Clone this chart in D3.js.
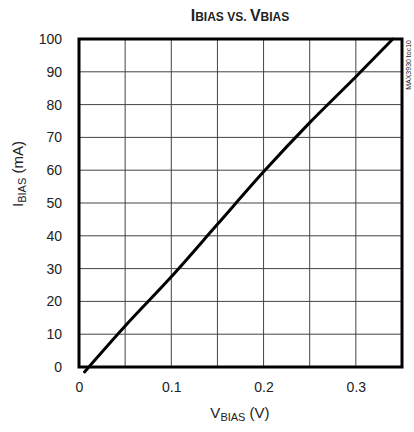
<!DOCTYPE html>
<html>
<head>
<meta charset="utf-8">
<script src="https://cdn.jsdelivr.net/npm/d3@7"></script>
<style>
  html, body { margin: 0; padding: 0; background: #fff; }
  svg { display: block; }
  text { font-family: "Liberation Sans Narrow", "Liberation Sans", Arial, sans-serif; fill: #222; }
</style>
</head>
<body>
<svg id="chart" width="414" height="432"></svg>
<script>
const vBias = [0.006, 0.05, 0.1, 0.15, 0.2, 0.25, 0.3, 0.34]
const iBias = [-1.5, 12.5, 27.5, 43.5, 59.5, 74.5, 88.5, 100]
const xTicks = [0, 0.1, 0.2, 0.3]
const yTicks = [0, 10, 20, 30, 40, 50, 60, 70, 80, 90, 100]

const svg = d3.select("#chart")
const m = { left: 79, right: 402, top: 39, bottom: 367 }

const x = d3.scaleLinear().domain([0, 0.35]).range([m.left, m.right])
const y = d3.scaleLinear().domain([0, 100]).range([m.bottom, m.top])

// grid
const grid = svg.append("g").attr("stroke", "#444").attr("stroke-width", 1)
grid.selectAll("line.vx").data(d3.range(1, 7).map(i => i * 0.05))
  .join("line").attr("class", "vx")
  .attr("x1", d => x(d)).attr("x2", d => x(d))
  .attr("y1", m.top).attr("y2", m.bottom)
grid.selectAll("line.hy").data(yTicks.slice(1, -1))
  .join("line").attr("class", "hy")
  .attr("x1", m.left).attr("x2", m.right)
  .attr("y1", d => y(d)).attr("y2", d => y(d))

// tick labels through the axis generators, domain/ticks hidden
const xAxis = svg.append("g")
  .attr("transform", `translate(0,${m.bottom})`)
  .call(d3.axisBottom(x).tickValues(xTicks).tickSize(0).tickPadding(15)
    .tickFormat(d => d === 0 ? "0" : d3.format(".1f")(d)))
xAxis.select(".domain").remove()
xAxis.selectAll("text").attr("font-size", 14).attr("font-family", null).attr("fill", "#222")

const yAxis = svg.append("g")
  .attr("transform", `translate(${m.left},0)`)
  .call(d3.axisLeft(y).tickValues(yTicks).tickSize(0).tickPadding(17))
yAxis.select(".domain").remove()
yAxis.selectAll("text").attr("font-size", 14).attr("font-family", null).attr("fill", "#222")

// curve
svg.append("path")
  .datum(d3.zip(vBias, iBias))
  .attr("fill", "none").attr("stroke", "#000").attr("stroke-width", 3)
  .attr("stroke-linecap", "round")
  .attr("d", d3.line().x(d => x(d[0])).y(d => y(d[1])).curve(d3.curveMonotoneX))

// frame
svg.append("rect")
  .attr("x", m.left).attr("y", m.top)
  .attr("width", m.right - m.left).attr("height", m.bottom - m.top)
  .attr("fill", "none").attr("stroke", "#000").attr("stroke-width", 3)

// title
const title = svg.append("text").attr("x", 240).attr("y", 21)
  .attr("text-anchor", "middle").attr("font-weight", "bold").attr("fill", "#111")
title.append("tspan").attr("font-size", 16).text("I")
title.append("tspan").attr("font-size", 12).text("BIAS VS. ")
title.append("tspan").attr("font-size", 16).text("V")
title.append("tspan").attr("font-size", 12).text("BIAS")

// x title
const xt = svg.append("text").attr("x", 240).attr("y", 418).attr("text-anchor", "middle")
xt.append("tspan").attr("font-size", 15).text("V")
xt.append("tspan").attr("font-size", 11).attr("dy", 3).text("BIAS")
xt.append("tspan").attr("font-size", 15).attr("dy", -3).text(" (V)")

// y title
const yt = svg.append("text").attr("transform", "translate(23,174) rotate(-90)")
  .attr("text-anchor", "middle")
yt.append("tspan").attr("font-size", 15).text("I")
yt.append("tspan").attr("font-size", 11).attr("dy", 3).text("BIAS")
yt.append("tspan").attr("font-size", 15).attr("dy", -3).text(" (mA)")

// figure tag
svg.append("text").attr("transform", "translate(411,40) rotate(-90)")
  .attr("text-anchor", "end").attr("font-size", 7).attr("fill", "#777")
  .text("MAX3930 toc10")
</script>
</body>
</html>
